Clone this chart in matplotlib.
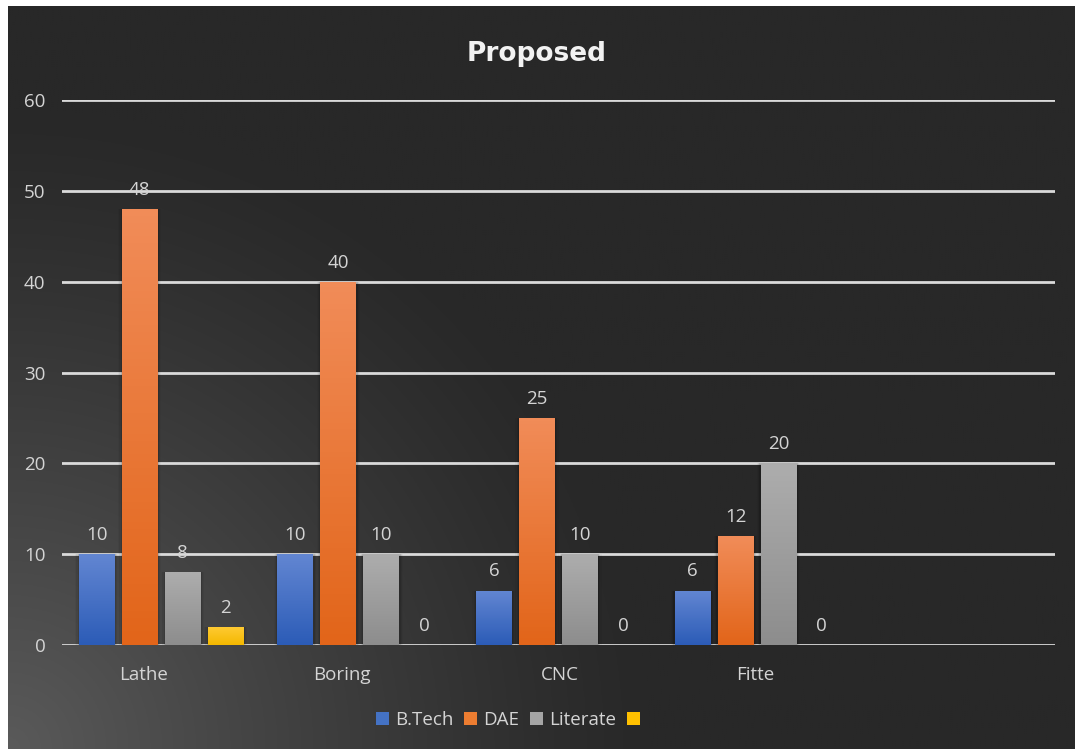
import numpy as np
import matplotlib
matplotlib.use("Agg")
import matplotlib.pyplot as plt
from matplotlib.colors import LinearSegmentedColormap, to_rgb
from matplotlib.patches import Patch, Rectangle

# ---- data ----
categories = ["Lathe", "Boring", "CNC", "Fitte", ""]
series_names = ["B.Tech", "DAE", "Literate", ""]
btech = [10, 10, 6, 6]
dae = [48, 40, 25, 12]
literate = [8, 10, 10, 20]
series4 = [2, 0, 0, 0]
yticks = [0, 10, 20, 30, 40, 50, 60]

series_values = [btech, dae, literate, series4]
# (top colour, bottom colour) for each series' gradient fill
series_colors = [("#6286D2", "#2C5CB7"),
                 ("#F18C58", "#E2651A"),
                 ("#ADADAD", "#8D8D8D"),
                 ("#FFCB35", "#F4B800")]
legend_colors = ["#4472C4", "#ED7D31", "#A5A5A5", "#FFC000"]

W, H, DPI = 1075, 749, 100
fig = plt.figure(figsize=(W / DPI, H / DPI), dpi=DPI)
fig.patch.set_facecolor("white")

# ---- dark panel with soft light corner at bottom-left ----
bg = fig.add_axes([8 / W, 0, 1 - 8 / W, 1 - 6 / H], zorder=0)
bg.set_axis_off()
nx, ny = 540, 372
xx, yy = np.meshgrid(np.linspace(0, 1067, nx), np.linspace(0, 743, ny))
d = np.hypot(xx, yy)  # distance from bottom-left corner (origin lower)
t = np.clip(1 - d / 640.0, 0, 1) ** 1.2
dark = np.array(to_rgb("#282828"))
light = np.array(to_rgb("#5A5A5A"))
img = dark[None, None, :] + (light - dark)[None, None, :] * t[..., None]
bg.imshow(img, origin="lower", aspect="auto", extent=[0, 1, 0, 1])
bg.set_xlim(0, 1)
bg.set_ylim(0, 1)

# ---- main plot area ----
ax = fig.add_axes([62 / W, 1 - 645 / H, (1055 - 62) / W, (645 - 100) / H], zorder=1)
ax.patch.set_alpha(0)
n_cat = len(categories)
ax.set_xlim(-0.5, n_cat - 0.5)
ax.set_ylim(0, 60)

for sp in ax.spines.values():
    sp.set_visible(False)

grid_col = "#DADADA"
for v in yticks:
    ax.axhline(v, color=grid_col, lw=2.0, zorder=1)

font = "Open Sans"
txt_col = "#D4D4D4"
fs = 13.5
ax.set_yticks(yticks)
ax.set_yticklabels([str(v) for v in yticks], fontsize=fs, color=txt_col, family=font)
ax.tick_params(axis="y", length=0, pad=12)
ax.set_xticks(range(n_cat))
ax.set_xticklabels([])
ax.tick_params(axis="x", length=0)

# category labels (first two carry trailing padding in the source labels)
label_shift = [-18, -18, 1, -2, 0]
for i, lab in enumerate(categories):
    ax.annotate(lab, xy=(i, 0), xycoords="data", xytext=(label_shift[i] * 72 / DPI, -30 * 72 / DPI),
                textcoords="offset points", ha="center", va="center",
                fontsize=fs, color=txt_col, family=font, annotation_clip=False)

bar_w = 0.181
step = 0.2165
n_ser = len(series_values)
for s, (vals, (ctop, cbot)) in enumerate(zip(series_values, series_colors)):
    xs = np.arange(len(vals)) + (s - (n_ser - 1) / 2) * step
    cmap = LinearSegmentedColormap.from_list(f"g{s}", [cbot, ctop])
    bars = ax.bar(xs, vals, width=bar_w, color=legend_colors[s], zorder=3, linewidth=0)
    for b, v in zip(bars, vals):
        if v > 0:
            x0, y0 = b.get_x(), b.get_y()
            w, h = b.get_width(), b.get_height()
            # soft shadow beside the bar
            for k, a in enumerate([0.10, 0.06, 0.03]):
                pad = 0.006 * (k + 1)
                ax.add_patch(Rectangle((x0 - pad, y0), w + 2 * pad, h,
                                       facecolor="black", alpha=a, lw=0, zorder=2))
            grad = np.linspace(0, 1, 64).reshape(-1, 1)
            im = ax.imshow(grad, cmap=cmap, origin="lower", aspect="auto",
                           extent=[x0, x0 + w, y0, y0 + h], zorder=4)
            im.set_clip_path(b)
        ax.annotate(f"{v}", xy=(b.get_x() + b.get_width() / 2, v),
                    xytext=(0, 19 * 72 / DPI), textcoords="offset points",
                    ha="center", va="center", fontsize=fs, color=txt_col,
                    family=font, zorder=5)

ax.set_xlim(-0.5, n_cat - 0.5)
ax.set_ylim(0, 60)

# ---- title ----
fig.text(537 / W, 1 - 54 / H, "Proposed", ha="center", va="center",
         fontsize=19, fontweight="bold", color="#F2F2F2", family="DejaVu Sans")

# ---- legend ----
handles = [Patch(facecolor=c, edgecolor="none") for c in legend_colors]
leg = fig.legend(handles, series_names, loc="center", bbox_to_anchor=(511 / W, 1 - 720 / H),
                 ncol=4, frameon=False, handlelength=0.7, handleheight=0.7,
                 handletextpad=0.3, columnspacing=0.6,
                 prop={"family": font, "size": fs})
for t_ in leg.get_texts():
    t_.set_color(txt_col)

fig.savefig("out.png", dpi=DPI, facecolor=fig.get_facecolor())
